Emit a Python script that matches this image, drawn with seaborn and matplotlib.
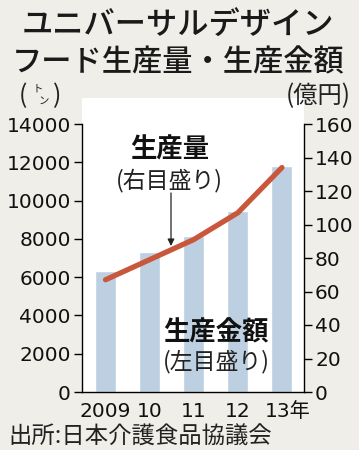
import matplotlib
matplotlib.use("Agg")
import matplotlib.pyplot as plt
import matplotlib.transforms as mtransforms
import seaborn as sns
import numpy as np
import pandas as pd

years = ["2009", "10", "11", "12", "13年"]
amount_ton = [6300, 7300, 8150, 9450, 11800]      # bars, left axis
value_oku = [67, 79, 91, 107, 134]                 # line, right axis
left_ticks = [0, 2000, 4000, 6000, 8000, 10000, 12000, 14000]
right_ticks = [0, 20, 40, 60, 80, 100, 120, 140, 160]

sns.set_theme(style="white")
plt.rcParams['font.family'] = ['DejaVu Sans', 'Noto Sans CJK JP']
JP = ['Noto Sans CJK JP', 'DejaVu Sans']

BG = '#efeee9'
BAR = '#bdd0e2'
LINE = '#c9573b'

W, H = 359, 450
fig = plt.figure(figsize=(W / 100, H / 100), dpi=100, facecolor=BG)

top_px = 98
ax = fig.add_axes([82 / W, (H - 392) / H, 222 / W, (392 - top_px) / H])
ax.set_facecolor('white')

df = pd.DataFrame({"year": years, "amount": amount_ton})
sns.barplot(data=df, x="year", y="amount", color=BAR, width=0.475,
            saturation=1, ax=ax)
ax.set_xlim(-0.533, 4.5)
ytop = 14000 * (392 - top_px) / 268
ax.set_ylim(0, ytop)
ax.set_yticks(left_ticks)
ax.set_yticklabels([str(t) for t in left_ticks], fontsize=14.5)
ax.set_xlabel("")
ax.set_ylabel("")
ax.tick_params(axis='y', which='both', direction='out', length=6, width=1,
               color='black', pad=2, left=True, labelcolor='#111111')
ax.tick_params(axis='x', length=0, pad=7, labelsize=14.5, labelcolor='#111111')
for lab in ax.get_xticklabels():
    lab.set_fontfamily(['DejaVu Sans', 'Noto Sans CJK JP'])
last = ax.get_xticklabels()[-1]
last.set_transform(last.get_transform() + mtransforms.ScaledTranslation(6 / 100, 0, fig.dpi_scale_trans))

for s in ['top', 'right']:
    ax.spines[s].set_visible(False)
for s in ['left', 'bottom']:
    ax.spines[s].set_color('black')
    ax.spines[s].set_linewidth(1)
ax.spines['left'].set_bounds(0, 14000)

ax2 = ax.twinx()
sns.lineplot(x=np.arange(len(years)), y=value_oku, ax=ax2, color=LINE,
             linewidth=3.8, solid_capstyle='round')
ax2.set_ylim(0, 160 * (392 - top_px) / 268)
ax2.set_yticks(right_ticks)
ax2.set_yticklabels([str(t) for t in right_ticks], fontsize=14.5)
ax2.tick_params(axis='y', direction='out', length=6, width=1, color='black',
                pad=2, right=True, labelcolor='#111111')
for s in ['top', 'left', 'bottom']:
    ax2.spines[s].set_visible(False)
ax2.spines['right'].set_color('black')
ax2.spines['right'].set_linewidth(1)
ax2.spines['right'].set_bounds(0, 160)
ax2.set_xlim(-0.533, 4.5)
ax2.set_ylabel("")

def fx(px):
    return px / W

def fy(py):
    return 1 - py / H

# Title
fig.text(fx(178), fy(26), "ユニバーサルデザイン", ha='center', va='center',
         fontsize=22.5, family=JP, fontweight='medium', color='#1a1a1a')
fig.text(fx(178), fy(63), "フード生産量・生産金額", ha='center', va='center',
         fontsize=21.8, family=JP, fontweight='medium', color='#1a1a1a')

# Units
fig.text(fx(19), fy(96), "(", ha='left', va='center', fontsize=18, family=JP, color='#222222')
fig.text(fx(33), fy(89), "ト", ha='left', va='center', fontsize=7.5, family=JP, color='#222222')
fig.text(fx(39), fy(101), "ン", ha='left', va='center', fontsize=7.5, family=JP, color='#222222')
fig.text(fx(53), fy(96), ")", ha='left', va='center', fontsize=18, family=JP, color='#222222')
fig.text(fx(351), fy(96), "(億円)", ha='right', va='center', fontsize=17.5, family=JP, color='#222222')

# Annotations
fig.text(fx(170), fy(150), "生産量", ha='center', va='center', fontsize=19,
         fontweight='bold', family=JP, color='#111111')
fig.text(fx(169), fy(180), "(右目盛り)", ha='center', va='center', fontsize=16.5,
         family=JP, color='#222222')
fig.text(fx(216), fy(333), "生産金額", ha='center', va='center', fontsize=19,
         fontweight='bold', family=JP, color='#111111')
fig.text(fx(216), fy(362), "(左目盛り)", ha='center', va='center', fontsize=16.5,
         family=JP, color='#222222')

fig.add_artist(matplotlib.patches.FancyArrowPatch(
    (fx(171), fy(193)), (fx(171), fy(246)), transform=fig.transFigure,
    arrowstyle='-|>,head_length=4,head_width=2', color='#222222', lw=0.9,
    shrinkA=0, shrinkB=0))

# Source
fig.text(fx(8), fy(437), "出所:日本介護食品協議会", ha='left', va='center',
         fontsize=16.8, family=JP, color='#222222')

fig.savefig("out.png", dpi=100, facecolor=BG)
